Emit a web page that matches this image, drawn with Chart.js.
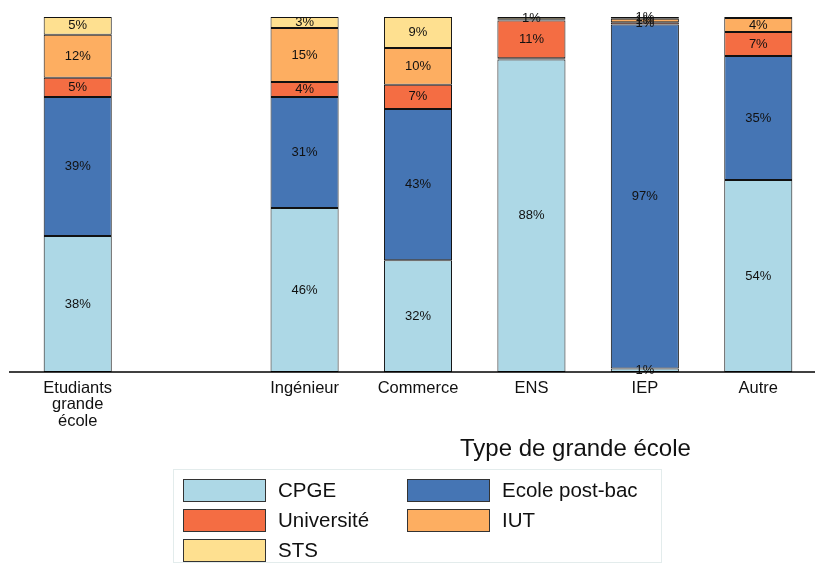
<!DOCTYPE html>
<html><head><meta charset="utf-8">
<script src="https://cdn.jsdelivr.net/npm/chart.js@4/dist/chart.umd.min.js"></script>
<style>
html,body{margin:0;padding:0;background:#fff;font-family:"Liberation Sans",Arial,sans-serif;}
#wrap{position:relative;width:815px;height:563px;overflow:hidden;}
#c{position:absolute;left:0;top:0;}
#xtitle{position:absolute;left:460px;top:436px;font-size:24px;line-height:1;color:#111;white-space:nowrap;}
#legend{position:absolute;left:173px;top:469px;width:489px;height:94px;border:1px solid #e3ecec;box-sizing:border-box;}
.item{position:absolute;display:flex;align-items:center;font-size:20.5px;color:#111;white-space:nowrap;}
.sw{width:81px;height:21px;border:1px solid #333;margin-right:12px;}
</style></head><body>
<div id="wrap"><canvas id="c" width="815" height="563"></canvas>
<div id="xtitle">Type de grande école</div>
<div id="legend"></div></div>
<script>
const categories = [["Etudiants","grande","école"], "", "Ingénieur", "Commerce", "ENS", "IEP", "Autre"];
const seriesNames = ["CPGE", "Ecole post-bac", "Université", "IUT", "STS"];
const cpge     = [38.3, null, 46.2, 31.5, 88.0, 1.0, 54.1];
const postbac  = [39.2, null, 31.3, 42.6, 0.4, 96.9, 34.9];
const univ     = [5.4, null, 4.2, 6.8, 10.6, 0.6, 6.8];
const iut      = [12.1, null, 15.2, 10.4, 0.4, 1.0, 3.9];
const sts      = [5.0, null, 3.1, 8.7, 0.6, 0.5, 0.3];
const colors = ["#ADD8E6", "#4575B4", "#F46D43", "#FDAE61", "#FEE090"];
const seriesData = [cpge, postbac, univ, iut, sts];

const labelPlugin = {
  id:'segLabels',
  afterDatasetsDraw(chart){
    const ctx = chart.ctx;
    ctx.save();
    ctx.font = '13px "Liberation Sans", Arial, sans-serif';
    ctx.fillStyle = '#111';
    ctx.textAlign = 'center';
    ctx.textBaseline = 'middle';
    chart.data.datasets.forEach((ds, di) => {
      const meta = chart.getDatasetMeta(di);
      meta.data.forEach((el, i) => {
        const v = ds.data[i];
        if (v == null || Math.round(v) < 1) return;
        const p = el.getProps(['x','y','base'], true);
        ctx.fillText(Math.round(v) + '%', p.x, (p.y + p.base) / 2);
      });
    });
    const ys = chart.scales.y.getPixelForValue(0);
    ctx.strokeStyle = '#000';
    ctx.lineWidth = 1.3;
    ctx.beginPath();
    ctx.moveTo(9, ys); ctx.lineTo(chart.chartArea.right, ys);
    ctx.stroke();
    ctx.restore();
  }
};

new Chart(document.getElementById('c'), {
  type: 'bar',
  data: {
    labels: categories,
    datasets: seriesData.map((d, i) => ({
      label: seriesNames[i], data: d, backgroundColor: colors[i],
      borderColor: '#111', borderWidth: 1, borderSkipped: false,
      barPercentage: 0.6, categoryPercentage: 1.0
    }))
  },
  options: {
    responsive: false, animation: false,
    devicePixelRatio: 1,
    layout: { padding: { left: 21, right: 0, top: 17, bottom: 0 } },
    plugins: { legend: { display: false }, tooltip: { enabled: false } },
    scales: {
      x: {
        stacked: true,
        grid: { display: false, drawTicks: false },
        border: { display: false },
        ticks: { color: '#111', padding: 8, maxRotation: 0, autoSkip: false,
                 font: { family: '"Liberation Sans", Arial, sans-serif', size: 16.5, lineHeight: 1.0 } },
        afterFit(scale){ scale.height = 191; }
      },
      y: { stacked: true, display: false, min: 0, max: 100 }
    }
  },
  plugins: [labelPlugin]
});

const leg = document.getElementById('legend');
seriesNames.forEach((n, i) => {
  const it = document.createElement('div');
  it.className = 'item';
  it.style.left = (9 + (i % 2) * 224) + 'px';
  it.style.top = (8 + Math.floor(i / 2) * 30) + 'px';
  it.innerHTML = '<div class="sw" style="background:' + colors[i] + '"></div><span>' + n + '</span>';
  leg.appendChild(it);
});
</script></body></html>
